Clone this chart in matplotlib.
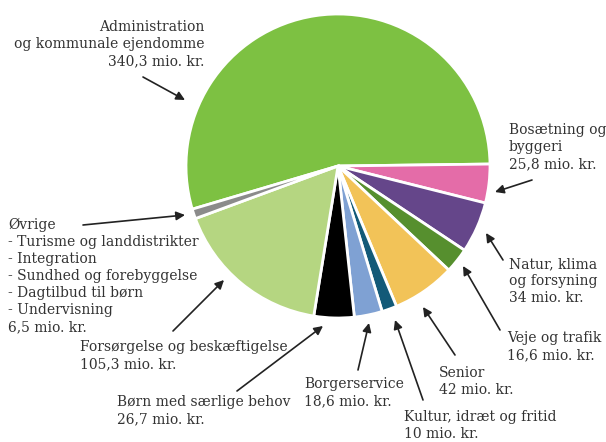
import matplotlib.pyplot as plt

labels = [
    "Administration\nog kommunale ejendomme\n340,3 mio. kr.",
    "Bosætning og\nbyggeri\n25,8 mio. kr.",
    "Natur, klima\nog forsyning\n34 mio. kr.",
    "Veje og trafik\n16,6 mio. kr.",
    "Senior\n42 mio. kr.",
    "Kultur, idræt og fritid\n10 mio. kr.",
    "Borgerservice\n18,6 mio. kr.",
    "Børn med særlige behov\n26,7 mio. kr.",
    "Forsørgelse og beskæftigelse\n105,3 mio. kr.",
    "Øvrige\n- Turisme og landdistrikter\n- Integration\n- Sundhed og forebyggelse\n- Dagtilbud til børn\n- Undervisning\n6,5 mio. kr.",
]
values = [340.3, 25.8, 34, 16.6, 42, 10, 18.6, 26.7, 105.3, 6.5]
colors = ["#7dc142", "#e46ca8", "#65468a", "#568f2e", "#f2c358",
          "#135a78", "#7fa1d3", "#000000", "#b5d681", "#8b8b8b"]

# label layout in pixels (top-down): text x, last-line baseline y, align, arrow tail, arrow head
layout = [
    (204, 65, "right", (143, 77), (185, 100)),
    (509, 168, "left", (532, 180), (495, 192)),
    (509, 302, "left", (503, 260), (486, 233)),
    (507, 359, "left", (500, 330), (463, 266)),
    (439, 394, "left", (455, 355), (423, 307)),
    (404, 438, "left", (423, 400), (395, 320)),
    (304, 405, "left", (358, 370), (369, 323)),
    (117, 423, "left", (237, 391), (323, 326)),
    (80, 368, "left", (173, 331), (224, 280)),
    (8, 331, "left", (83, 225), (185, 215)),
]

W, H = 606, 442
fig = plt.figure(figsize=(W / 100, H / 100), dpi=100)
ax = fig.add_axes([186 / W, (H - 318) / H, 304 / W, 304 / H])
ax.pie(values, colors=colors, startangle=196.5, counterclock=False,
       wedgeprops=dict(edgecolor="white", linewidth=2))
ax.set_xlim(-1, 1)
ax.set_ylim(-1, 1)
ax.set_aspect("equal")
ax.axis("off")

for lab, (tx, ty, ha, tail, head) in zip(labels, layout):
    fig.text(tx / W, 1 - ty / H, lab, ha=ha, va="baseline", fontsize=10,
             family="DejaVu Serif", color="#333333", linespacing=1.28,
             multialignment=ha)
    ax.annotate("", xy=(head[0], H - head[1]), xycoords="figure pixels",
                xytext=(tail[0], H - tail[1]), textcoords="figure pixels",
                arrowprops=dict(arrowstyle="-|>", color="#222222", lw=1.2,
                                mutation_scale=13, shrinkA=0, shrinkB=0),
                annotation_clip=False)

fig.savefig("out.png", dpi=100)
